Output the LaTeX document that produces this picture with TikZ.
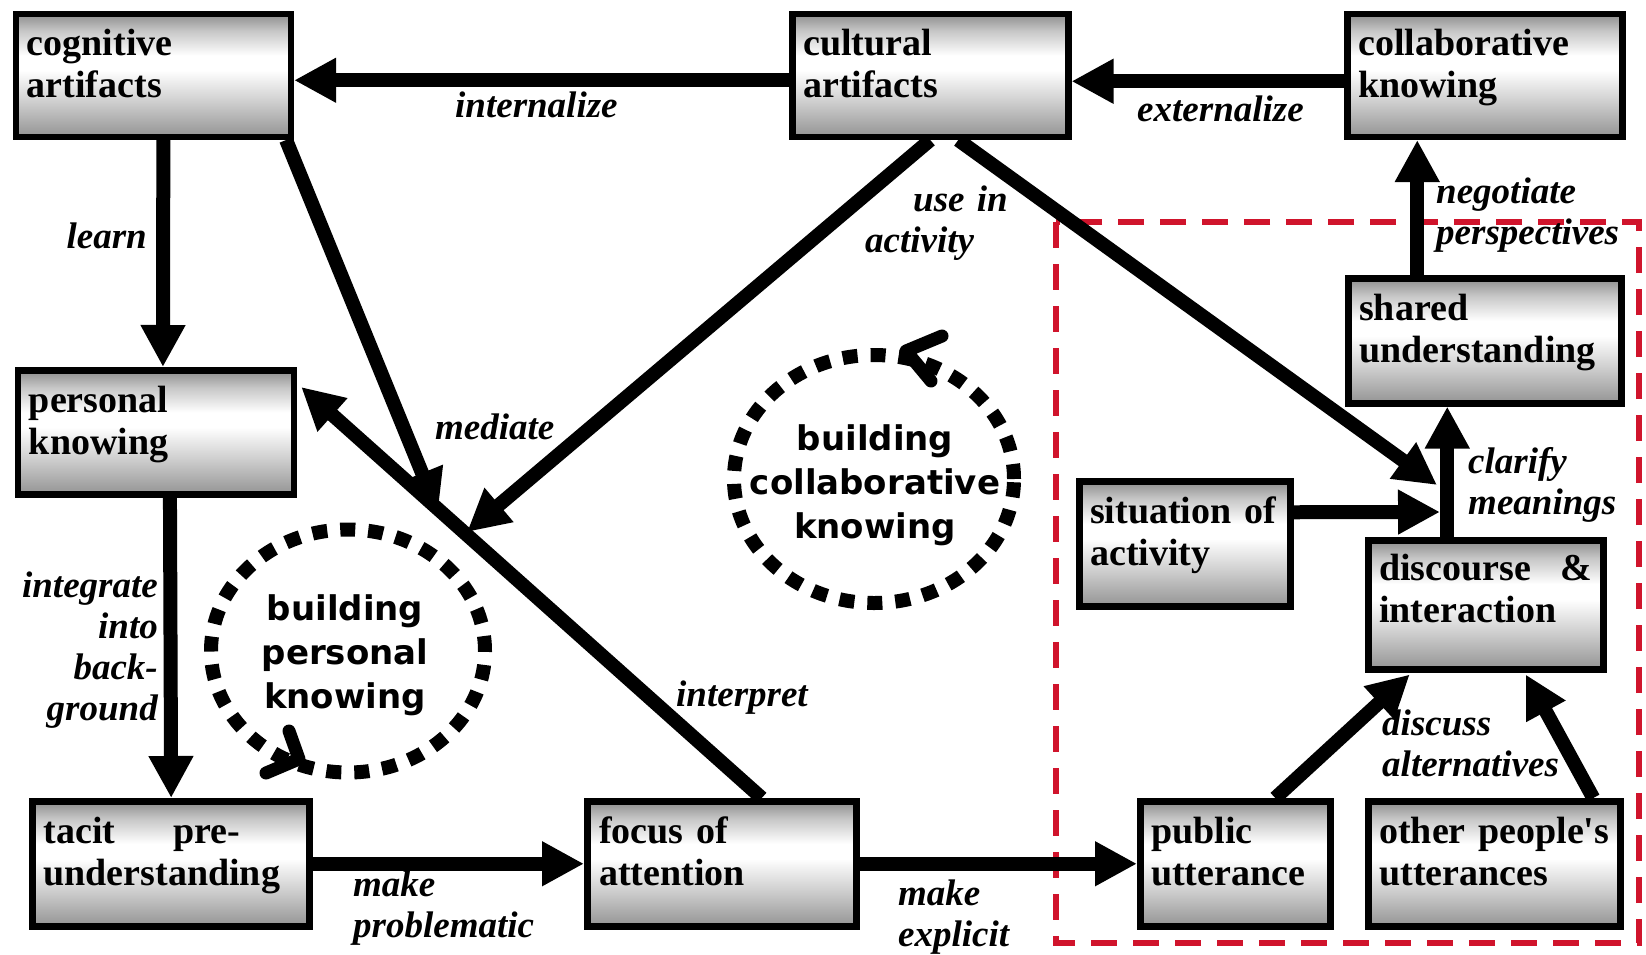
\documentclass[tikz,border=0pt]{standalone}
\usepackage{fontspec}
\setmainfont{Liberation Serif}
\newfontfamily\circfont{DejaVu Sans}
\usetikzlibrary{arrows.meta,shapes.geometric,calc}
\definecolor{zonered}{HTML}{D0142C}
\pgfdeclareverticalshading{boxshade}{100bp}{color(0bp)=(black!42); color(25bp)=(black!42); color(40bp)=(black!18); color(52bp)=(white); color(58bp)=(white); color(68bp)=(black!22); color(75bp)=(black!45); color(100bp)=(black!45)}
\tikzset{
  box/.style={rectangle, draw=black, line width=6.5pt, shade, shading=boxshade, anchor=north west, inner sep=0pt},
  boxtxt/.style={anchor=base west, align=left, inner sep=0pt, font=\bfseries\fontsize{38}{42}\selectfont},
  lbl/.style={anchor=base west, align=left, inner sep=0pt, text width=260pt, font=\bfseries\itshape\fontsize{37}{41}\selectfont},
  lblr/.style={lbl, anchor=base east, align=right},
  arr/.style={line width=14pt, -{Triangle[length=42pt,width=42pt]}},
  cyc/.style={ellipse, draw=black, line width=14pt, dash pattern=on 15pt off 13pt, inner sep=0pt},
  cyctxt/.style={anchor=base, align=center, text width=280pt, inner sep=0pt, font=\circfont\bfseries\fontsize{34}{44}\selectfont},
  chev/.style={line width=13pt, line cap=round, line join=round},
  zone/.style={draw=zonered, line width=5.5pt, dash pattern=on 26pt off 16pt},
}
\begin{document}
\begin{tikzpicture}[x=1pt,y=-1pt]
\useasboundingbox (0,0) rectangle (1646,954);
\fill[white] (0,0) rectangle (1646,954);

% red zone
\draw[zone] (1056,222) rectangle (1639,943);

% boxes
\node[box, minimum width=275pt, minimum height=123pt] (cog) at (12.6,10.5) {};
\node[box, minimum width=276pt, minimum height=123pt] (cult) at (789,10.5) {};
\node[box, minimum width=275pt, minimum height=123pt] (collab) at (1344,10.5) {};
\node[box, minimum width=276pt, minimum height=124pt] (pers) at (14.7,367) {};
\node[box, minimum width=273pt, minimum height=125pt] (shared) at (1345,275) {};
\node[box, minimum width=211pt, minimum height=125pt] (sit) at (1076,478) {};
\node[box, minimum width=235pt, minimum height=129pt] (disc) at (1365,537) {};
\node[box, minimum width=277pt, minimum height=125pt] (tacit) at (29.4,798) {};
\node[box, minimum width=269pt, minimum height=125pt] (foc) at (584,798) {};
\node[box, minimum width=190pt, minimum height=125pt] (pub) at (1137,798) {};
\node[box, minimum width=252pt, minimum height=125pt] (oth) at (1365,798) {};

% box texts
\node[boxtxt, text width=253pt] (cogT) at ($(cog.north west)+(14,45)$) {cognitive\\artifacts};
\node[boxtxt, text width=254pt] (cultT) at ($(cult.north west)+(14,45)$) {cultural\\artifacts};
\node[boxtxt, text width=253pt] (collabT) at ($(collab.north west)+(14,45)$) {collaborative\\knowing};
\node[boxtxt, text width=254pt] (persT) at ($(pers.north west)+(14,45)$) {personal\\knowing};
\node[boxtxt, text width=251pt] (sharedT) at ($(shared.north west)+(14,45)$) {shared\\understanding};
\node[boxtxt, text width=189pt] (sitT) at ($(sit.north west)+(14,45)$) {situation of\\activity};
\node[boxtxt, text width=213pt] (discT) at ($(disc.north west)+(14,43)$) {discourse\hfill\&\\interaction};
\node[boxtxt, text width=255pt] (tacitT) at ($(tacit.north west)+(14,45)$) {tacit\hspace*{58pt}pre-\\understanding};
\node[boxtxt, text width=247pt] (focT) at ($(foc.north west)+(15,45)$) {focus of\\attention};
\node[boxtxt, text width=168pt] (pubT) at ($(pub.north west)+(14,45)$) {public\\utterance};
\node[boxtxt, text width=240pt] (othT) at ($(oth.north west)+(14,45)$) {other people\textquotesingle s\\utterances};

% cycles
\node[cyc, minimum width=274pt, minimum height=243pt] (bpk) at (348,651) {};
\node[cyc, minimum width=280pt, minimum height=248pt] (bck) at (874,479) {};
\node[cyctxt] (bpkT) at (345,620) {building\\personal\\knowing};
\node[cyctxt] (bckT) at (875,450) {building\\collaborative\\knowing};
\draw[chev] (289,731) -- (299,759) -- (266,773);
\draw[chev] (942,336) -- (906,351) -- (931,381);

% free ends
\coordinate (medA) at (438,512);
\coordinate (medB) at (467,532);
\coordinate (clarTip) at (1437,485);
\coordinate (sitTip) at (1440,512);

% connectors
\draw[arr] ($(cult.west)+(0,5)$) -- ($(cog.east)+(0,5)$);
\draw[arr] ($(collab.west)+(0,6)$) -- ($(cult.east)+(0,6)$);
\draw[arr] ($(cog.south)+(10,0)$) -- ($(pers.north)+(7,0)$);
\draw[arr] ($(pers.south)+(14,0)$) -- (tacit.north);
\draw[arr] (tacit.east) -- (foc.west);
\draw[arr] (foc.east) -- (pub.west);
\draw[arr] ($(shared.north)+(-67.5,0)$) -- ($(collab.south)+(-67.5,0)$);
\draw[arr] ($(disc.north)+(-38.5,0)$) -- ($(shared.south)+(-37.5,0)$);
\draw[arr] ($(sit.east)+(0,-31.5)$) -- (sitTip);
\draw[arr] ($(cult.south)+(28,0)$) -- (clarTip);
\draw[arr] (cult.south) -- (medB);
\draw[arr] ($(cog.south east)+(-8,0)$) -- (medA);
\draw[arr] ($(foc.north)+(40,0)$) -- ($(pers.north east)+(4,20)$);
\draw[arr] ($(pub.north)+(40,0)$) -- ($(disc.south)+(-76,2)$);
\draw[arr] ($(oth.north)+(99,0)$) -- ($(disc.south)+(40,2)$);

% labels
\node[lbl] (lInt) at (455,117) {internalize};
\node[lbl] (lExt) at (1137,121) {externalize};
\node[lblr] (lLearn) at (147,248) {learn};
\node[lbl] (lUse) at (865,211) {\hspace*{48pt}use in\\activity};
\node[lbl] (lMed) at (435,439) {mediate};
\node[lbl] (lInterp) at (676,706) {interpret};
\node[lblr] (lIntg) at (158,597) {integrate\\into\\back-\\ground};
\node[lbl] (lProb) at (353,896) {make\\problematic};
\node[lbl] (lExpl) at (898,905) {make\\explicit};
\node[lbl] (lNeg) at (1436,203) {negotiate\\perspectives};
\node[lbl] (lClar) at (1468,473) {clarify\\meanings};
\node[lbl] (lDisc) at (1382,735) {discuss\\alternatives};
\end{tikzpicture}
\end{document}
